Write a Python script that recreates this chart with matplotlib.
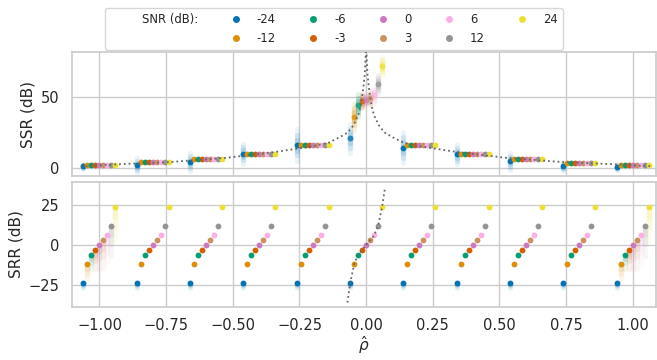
import numpy as np
import matplotlib
matplotlib.use('Agg')
import matplotlib.pyplot as plt
import seaborn as sns
from matplotlib.lines import Line2D

sns.set_theme(style='whitegrid')
plt.rcParams['font.family'] = ['DejaVu Sans']

snr_db = [-24, -12, -6, -3, 0, 3, 6, 12, 24]
snr_labels = ['-24', '-12', '-6', '-3', '0', '3', '6', '12', '24']
rho = [-1.0, -0.8, -0.6, -0.4, -0.2, 0.0, 0.2, 0.4, 0.6, 0.8, 1.0]
# rho-hat offset of each SNR inside a group
rho_off = [-0.06, -0.045, -0.03, -0.015, 0.0, 0.015, 0.03, 0.045, 0.06]

# SSR (dB), one row per rho group, one column per SNR
ssr = [
    [1.4, 2.1, 2.1, 2.1, 2.1, 2.1, 2.1, 2.1, 2.1],
    [2.1, 4.2, 4.2, 4.2, 4.2, 4.2, 4.2, 4.2, 4.2],
    [4.5, 6.5, 6.5, 6.5, 6.5, 6.5, 6.5, 6.5, 6.5],
    [10.3, 10.0, 10.0, 10.0, 10.0, 10.0, 10.0, 10.0, 10.0],
    [16.2, 16.4, 16.4, 16.4, 16.4, 16.4, 16.4, 16.4, 16.4],
    [21.0, 36.0, 44.0, 47.0, 48.0, 49.0, 51.0, 59.0, 71.5],
    [14.6, 16.2, 16.2, 16.2, 16.2, 16.2, 16.2, 16.2, 16.2],
    [9.9, 10.0, 10.0, 10.0, 10.0, 10.0, 10.0, 10.0, 10.0],
    [4.9, 6.5, 6.5, 6.5, 6.5, 6.5, 6.5, 6.5, 6.5],
    [1.4, 4.0, 4.0, 4.0, 4.0, 4.0, 4.0, 4.0, 4.0],
    [0.9, 2.1, 2.1, 2.1, 2.1, 2.1, 2.1, 2.1, 2.1],
]
# half spread of the SSR trials (dB)
ssr_spread = [
    [2, 0, 0, 0, 0, 0, 0, 0, 0],
    [5, 0, 0, 0, 0, 0, 0, 0, 0],
    [6, 0, 0, 0, 0, 0, 0, 0, 0],
    [7, 0, 0, 0, 0, 0, 0, 0, 0],
    [11, 0, 0, 0, 0, 0, 0, 0, 0],
    [10, 9, 8, 5, 4, 5, 6, 6, 6.5],
    [11, 0, 0, 0, 0, 0, 0, 0, 0],
    [7, 0, 0, 0, 0, 0, 0, 0, 0],
    [6, 0, 0, 0, 0, 0, 0, 0, 0],
    [3, 0, 0, 0, 0, 0, 0, 0, 0],
    [2, 0, 0, 0, 0, 0, 0, 0, 0],
]
# SRR (dB), same for every group
srr = [-24, -12, -6, -3, 0, 3, 6, 12, 24]
# downward tail of SRR trials (dB), inner groups and the |rho|=1 groups
srr_tail_inner = [3, 0, 0, 0, 0, 0, 0, 0, 0]
srr_tail_edge = [3, 10, 9, 12, 15, 18, 17, 19, 21]

# dotted reference curves
ssr_curve_x = [-1.07, -0.92, -0.74, -0.52, -0.34, -0.2, -0.14, -0.097, -0.07, -0.048,
               -0.03, -0.02, -0.015, -0.01, -0.005, 0.0,
               0.005, 0.01, 0.015, 0.02, 0.03, 0.048, 0.07, 0.097, 0.14, 0.2,
               0.34, 0.52, 0.74, 0.92, 1.07]
ssr_curve_y = [1.5, 3.0, 4.4, 7.5, 11.5, 15.5, 18.0, 22.0, 25.0, 30.0,
               37.0, 44.0, 50.0, 57.0, 66.0, 85.0,
               66.0, 57.0, 50.0, 44.0, 37.0, 30.0, 25.0, 22.0, 18.0, 15.5,
               11.5, 7.5, 4.4, 3.0, 1.5]
srr_curve_x = [-0.07, -0.06, -0.045, -0.03, -0.015, 0.0, 0.015, 0.03, 0.045, 0.06, 0.071]
srr_curve_y = [-36, -24, -12, -6, -3, 0, 3, 6, 12, 24, 36]

colors = sns.color_palette('colorblind', 9)


def smear(ax, x, lo, hi, color, k=1.0):
    mid = 0.5 * (lo + hi)
    half = 0.5 * (hi - lo)
    for frac, a in [(1.0, 0.08), (0.65, 0.12), (0.35, 0.16)]:
        lc = ax.vlines(x, mid - half * frac, mid + half * frac, colors=[color],
                       alpha=min(1.0, a * k), lw=3.8, zorder=2)
        lc.set_capstyle('round')


def tail(ax, x, top, length, color):
    for frac, a in [(1.0, 0.07), (0.6, 0.10), (0.3, 0.13)]:
        lc = ax.vlines(x, top - length * frac, top, colors=[color],
                       alpha=a, lw=3.8, zorder=2)
        lc.set_capstyle('round')


fig, (ax1, ax2) = plt.subplots(2, 1, sharex=True, figsize=(6.57, 3.6), dpi=100)
fig.subplots_adjust(left=0.110, right=0.998, top=0.856, bottom=0.148, hspace=0.05)

for g, r in enumerate(rho):
    for i in range(len(snr_db)):
        x = r + rho_off[i]
        y = ssr[g][i]
        s = ssr_spread[g][i]
        centre = (r == 0.0)
        if s > 0:
            smear(ax1, x, y - s, y + s, colors[i], k=1.6 if centre and i > 0 else 1.0)
        ax1.plot(x, y, 'o', color=colors[i], ms=4.2, mew=0,
                 alpha=0.8 if centre else 1.0, zorder=3)

        y2 = srr[i]
        t = srr_tail_edge[i] if abs(r) == 1.0 else srr_tail_inner[i]
        if t > 0:
            tail(ax2, x, y2, t, colors[i])
        ax2.plot(x, y2, 'o', color=colors[i], ms=4.2, mew=0, zorder=3)

ax1.plot(ssr_curve_x, ssr_curve_y, ':', color='0.4', lw=1.3, zorder=4)
ax2.plot(srr_curve_x, srr_curve_y, ':', color='0.4', lw=1.3, zorder=4)

ax1.set_xlim(-1.102, 1.086)
ax1.set_ylim(-5.4, 81.4)
ax2.set_ylim(-38.6, 39.2)
ax1.set_yticks([0, 50])
ax2.set_yticks([-25, 0, 25])
ax2.set_xticks([-1.0, -0.75, -0.5, -0.25, 0.0, 0.25, 0.5, 0.75, 1.0])
ax2.set_xticklabels(['−1.00', '−0.75', '−0.50', '−0.25', '0.00', '0.25', '0.50', '0.75', '1.00'])

for ax in (ax1, ax2):
    ax.tick_params(labelsize=10.5, pad=3)
ax2.tick_params(axis='x', pad=2)
ax1.set_ylabel('SSR (dB)', fontsize=11)
ax2.set_ylabel('SRR (dB)', fontsize=11)
ax2.set_xlabel(r'$\hat{\rho}$', fontsize=11, labelpad=1)

blank = Line2D([], [], ls='none')
handles = [blank, blank] + [Line2D([], [], ls='none', marker='o', ms=5, mew=0, color=c)
                            for c in colors]
labels = ['SNR (dB):', ''] + snr_labels
fig.legend(handles, labels, loc='upper center', bbox_to_anchor=(0.508, 0.993),
           ncol=6, fontsize=8.4, frameon=True, columnspacing=2.2)

fig.savefig('out.png', dpi=100)
